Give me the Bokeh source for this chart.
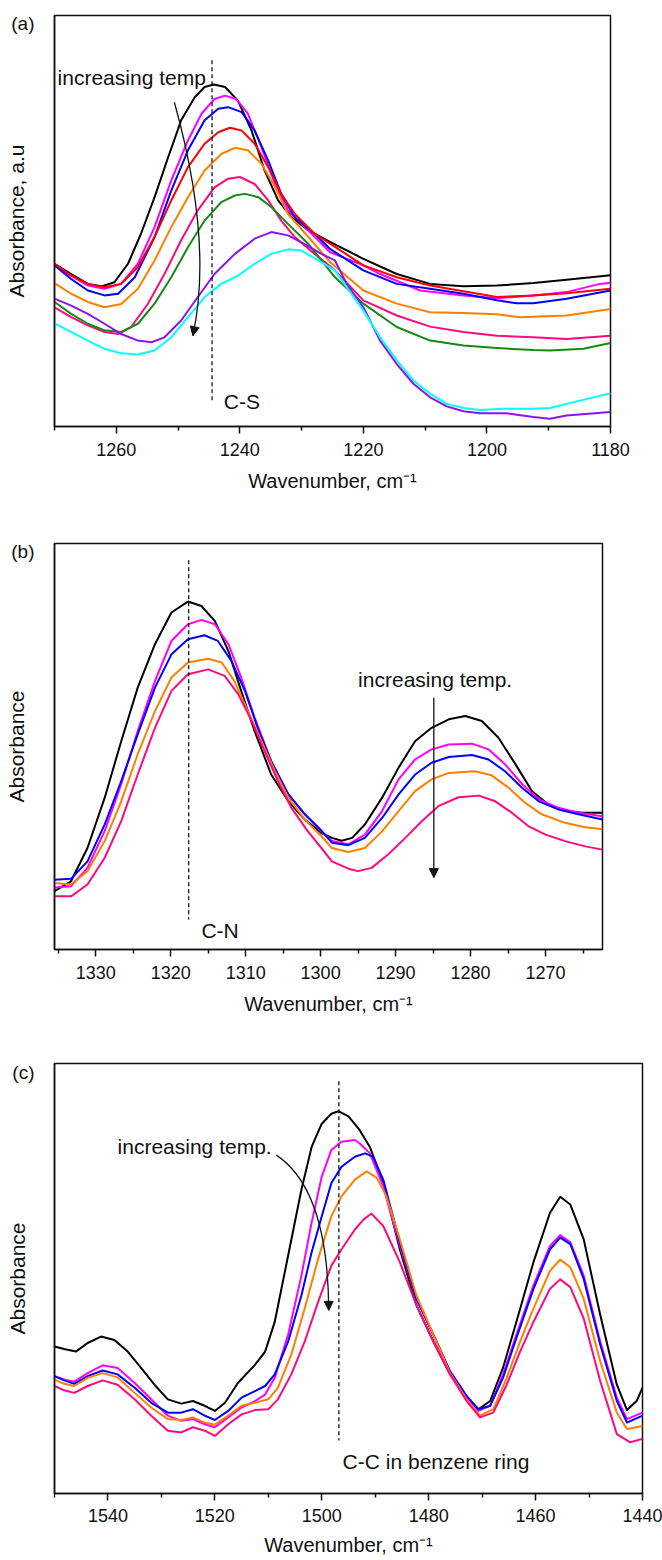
from bokeh.plotting import figure
from bokeh.layouts import column
from bokeh.models import Label, Arrow, NormalHead, FixedTicker, Range1d, CustomJSTickFormatter
from bokeh.embed import file_html
from bokeh.resources import INLINE

FONT = "Liberation Sans"
X_TITLE = "Wavenumber, cm\u207b\u00b9"

# ---------------- panel (a): C-S band ----------------
a_x_range = (1270, 1180)
a_major_ticks = [1260, 1240, 1220, 1200, 1180]
a_minor_ticks = [1270, 1250, 1230, 1210, 1190]

a_black_wn = [1270.0, 1267.3, 1264.6, 1262.4, 1260.3, 1258.1, 1256.0, 1253.8, 1251.6, 1249.5, 1247.3, 1245.7, 1244.2, 1242.4, 1240.3, 1238.1, 1236.0, 1233.8, 1231.6, 1228.9, 1225.4, 1220.0, 1214.6, 1209.2, 1203.8, 1198.4, 1192.5, 1187.1, 1180.0]
a_black_abs = [39.6, 37.1, 34.7, 34.1, 35.1, 39.6, 46.9, 55.8, 65.5, 74.5, 80.1, 82.6, 83.2, 82.6, 79.3, 72.0, 62.3, 55.0, 50.9, 47.7, 44.9, 40.8, 37.1, 34.7, 34.1, 34.3, 34.9, 35.7, 36.8]
a_magenta_wn = [1270.0, 1267.3, 1264.6, 1261.9, 1259.2, 1256.5, 1253.8, 1251.1, 1248.4, 1246.2, 1244.1, 1242.4, 1240.6, 1238.7, 1236.5, 1234.3, 1232.2, 1228.9, 1225.4, 1220.0, 1217.3, 1210.8, 1203.8, 1198.4, 1192.5, 1187.1, 1181.7, 1180.0]
a_magenta_abs = [39.2, 36.7, 34.3, 33.5, 34.7, 39.6, 48.5, 59.9, 69.6, 76.1, 79.7, 80.5, 79.7, 76.1, 67.9, 59.0, 52.6, 47.7, 42.4, 39.2, 37.1, 33.1, 31.9, 31.2, 31.9, 32.7, 34.7, 35.0]
a_blue_wn = [1270.0, 1267.3, 1264.6, 1261.9, 1259.7, 1257.0, 1253.8, 1251.1, 1248.4, 1245.7, 1243.5, 1241.9, 1239.7, 1237.6, 1235.4, 1233.3, 1231.1, 1227.9, 1225.4, 1220.0, 1214.6, 1209.2, 1203.8, 1198.4, 1195.2, 1192.5, 1187.1, 1180.0]
a_blue_abs = [39.2, 35.9, 33.1, 31.9, 32.3, 36.3, 46.1, 57.4, 67.2, 74.5, 77.3, 77.7, 76.5, 72.0, 64.7, 56.6, 50.9, 46.9, 43.2, 38.0, 34.7, 33.5, 32.3, 30.7, 30.0, 30.0, 31.1, 33.1]
a_red_wn = [1270.0, 1267.3, 1264.6, 1261.9, 1259.2, 1256.5, 1253.8, 1251.1, 1248.4, 1245.7, 1243.5, 1241.6, 1239.7, 1237.6, 1235.4, 1233.3, 1231.1, 1227.9, 1225.4, 1220.0, 1214.6, 1209.2, 1203.8, 1198.4, 1192.5, 1187.1, 1180.0]
a_red_abs = [39.6, 36.7, 34.7, 33.9, 34.7, 38.8, 46.1, 55.0, 63.1, 68.8, 71.6, 72.7, 72.0, 68.8, 63.1, 56.6, 51.7, 46.9, 44.5, 39.2, 36.3, 34.3, 32.9, 31.5, 31.9, 32.4, 33.5]
a_orange_wn = [1270.0, 1267.3, 1264.6, 1261.9, 1259.2, 1256.5, 1253.8, 1251.1, 1248.4, 1245.7, 1243.0, 1240.8, 1238.7, 1236.5, 1234.3, 1232.2, 1228.9, 1225.4, 1220.0, 1214.6, 1209.2, 1203.8, 1198.4, 1194.6, 1187.1, 1180.0]
a_orange_abs = [34.9, 32.3, 30.3, 29.0, 29.8, 33.5, 40.4, 48.5, 55.8, 62.3, 66.3, 67.8, 67.2, 63.9, 58.2, 51.7, 46.1, 40.0, 33.1, 29.9, 27.8, 27.6, 27.3, 26.6, 27.0, 28.6]
a_pink_wn = [1270.0, 1267.3, 1264.6, 1261.9, 1259.7, 1257.6, 1254.9, 1252.2, 1249.5, 1246.8, 1244.1, 1241.9, 1240.0, 1237.6, 1235.4, 1233.3, 1231.1, 1227.9, 1224.6, 1220.0, 1214.6, 1209.2, 1203.8, 1198.4, 1192.5, 1187.1, 1180.0]
a_pink_abs = [29.0, 26.6, 24.6, 23.0, 22.5, 24.2, 29.8, 37.1, 45.3, 52.6, 58.2, 60.3, 60.7, 59.0, 55.0, 50.1, 46.1, 42.0, 38.0, 30.7, 27.0, 24.3, 23.0, 22.1, 21.7, 21.3, 22.1]
a_green_wn = [1270.0, 1267.3, 1264.6, 1261.9, 1259.2, 1256.5, 1253.8, 1251.1, 1248.4, 1245.7, 1243.0, 1240.8, 1239.2, 1237.0, 1234.9, 1232.2, 1228.9, 1224.6, 1220.0, 1214.6, 1209.2, 1203.8, 1198.4, 1192.5, 1189.8, 1184.4, 1180.0]
a_green_abs = [30.3, 27.4, 25.0, 23.4, 23.0, 25.0, 29.9, 36.3, 43.6, 50.1, 54.6, 56.2, 56.6, 55.8, 53.4, 49.3, 44.4, 36.3, 29.9, 24.2, 20.9, 19.7, 19.1, 18.6, 18.5, 18.9, 20.3]
a_purple_wn = [1270.0, 1267.3, 1264.6, 1261.9, 1259.2, 1256.5, 1254.3, 1252.2, 1249.5, 1246.8, 1244.1, 1240.8, 1237.6, 1234.9, 1232.2, 1229.5, 1226.8, 1224.6, 1222.7, 1220.0, 1217.3, 1214.6, 1211.9, 1209.2, 1206.5, 1203.8, 1201.1, 1196.8, 1192.5, 1189.8, 1187.1, 1180.0]
a_purple_abs = [31.1, 29.4, 27.4, 25.0, 22.5, 20.9, 20.5, 21.7, 25.8, 31.5, 37.1, 42.0, 45.7, 47.3, 46.5, 44.4, 42.0, 40.4, 34.7, 29.0, 20.9, 15.2, 10.4, 7.1, 4.9, 3.7, 3.2, 3.2, 2.3, 1.9, 2.7, 3.5]
a_cyan_wn = [1270.0, 1267.3, 1264.6, 1261.9, 1259.2, 1256.5, 1253.8, 1251.1, 1248.4, 1245.7, 1243.0, 1240.3, 1237.6, 1234.9, 1232.2, 1230.0, 1227.3, 1224.6, 1222.7, 1220.0, 1217.3, 1214.6, 1211.9, 1209.2, 1206.5, 1203.8, 1201.1, 1197.3, 1192.5, 1189.8, 1187.1, 1180.0]
a_cyan_abs = [25.1, 23.0, 20.9, 18.9, 17.8, 17.5, 18.5, 21.7, 26.6, 31.5, 34.7, 36.7, 39.6, 42.0, 43.1, 42.8, 40.4, 38.0, 33.9, 28.2, 21.7, 16.1, 11.2, 8.0, 5.5, 4.5, 4.0, 4.3, 4.3, 4.5, 5.5, 8.1]

# ---------------- panel (b): C-N band ----------------
b_x_range = (1335.5, 1262.4)
b_major_ticks = [1330, 1320, 1310, 1300, 1290, 1280, 1270]
b_minor_ticks = [1335, 1325, 1315, 1305, 1295, 1285, 1275, 1265]

b_black_wn = [1335.5, 1333.3, 1331.1, 1328.8, 1326.6, 1324.4, 1322.1, 1319.9, 1317.7, 1315.9, 1314.1, 1312.3, 1310.6, 1308.8, 1306.6, 1304.3, 1302.1, 1299.9, 1298.5, 1297.2, 1295.8, 1294.1, 1291.8, 1289.6, 1287.4, 1285.2, 1282.9, 1280.7, 1278.5, 1276.3, 1274.0, 1271.8, 1269.6, 1267.4, 1265.1, 1262.4]
b_black_abs = [14.4, 16.8, 25.0, 37.4, 51.3, 64.5, 75.2, 83.0, 85.7, 84.6, 80.9, 73.5, 63.7, 53.8, 43.1, 36.5, 32.0, 28.7, 27.5, 26.8, 27.5, 30.8, 37.4, 44.8, 51.3, 54.6, 56.7, 57.5, 56.3, 52.2, 45.6, 39.0, 35.7, 34.2, 33.7, 33.7]
b_magenta_wn = [1335.5, 1333.3, 1331.1, 1328.8, 1326.6, 1324.4, 1322.1, 1319.9, 1317.7, 1315.9, 1314.1, 1312.3, 1310.6, 1308.8, 1306.6, 1304.3, 1302.1, 1299.9, 1298.5, 1296.3, 1294.1, 1291.8, 1289.6, 1287.4, 1285.2, 1282.9, 1279.8, 1277.6, 1275.4, 1273.1, 1270.9, 1268.3, 1265.6, 1262.4]
b_magenta_abs = [15.3, 15.6, 20.1, 29.2, 40.7, 53.8, 66.1, 76.0, 80.1, 81.2, 80.1, 75.2, 67.0, 57.1, 46.4, 38.2, 33.3, 29.1, 26.7, 25.9, 28.3, 34.1, 41.9, 46.8, 49.3, 50.5, 50.7, 49.3, 45.6, 40.7, 37.0, 34.9, 33.7, 32.8]
b_blue_wn = [1335.5, 1333.3, 1331.1, 1328.8, 1326.6, 1324.4, 1322.1, 1319.9, 1317.7, 1315.5, 1313.7, 1311.9, 1310.1, 1308.4, 1306.6, 1304.3, 1302.1, 1299.9, 1298.5, 1296.3, 1294.1, 1291.8, 1289.6, 1287.4, 1285.2, 1282.9, 1279.8, 1277.6, 1275.4, 1273.1, 1270.9, 1268.3, 1265.6, 1262.4]
b_blue_abs = [17.2, 17.4, 21.7, 30.8, 41.5, 53.0, 64.5, 72.7, 76.4, 77.4, 76.0, 71.1, 63.7, 54.6, 46.4, 38.2, 33.3, 29.3, 26.3, 25.7, 27.5, 32.4, 38.2, 43.1, 46.0, 47.4, 47.9, 46.8, 43.9, 39.8, 36.5, 34.5, 33.3, 32.0]
b_orange_wn = [1335.5, 1333.3, 1331.1, 1328.8, 1326.6, 1324.4, 1322.1, 1319.9, 1317.7, 1315.0, 1313.2, 1311.5, 1309.7, 1307.9, 1306.1, 1304.3, 1302.1, 1299.9, 1298.5, 1296.3, 1294.1, 1291.8, 1289.6, 1287.4, 1285.2, 1282.9, 1279.4, 1277.2, 1274.9, 1272.7, 1270.5, 1267.4, 1264.7, 1262.4]
b_orange_abs = [16.4, 16.0, 19.3, 26.7, 36.5, 48.1, 58.7, 67.0, 70.7, 71.6, 70.7, 66.1, 58.7, 51.3, 43.9, 37.4, 32.0, 27.9, 25.0, 24.0, 25.0, 29.1, 34.1, 39.0, 41.9, 43.5, 43.9, 42.9, 39.8, 36.1, 33.3, 31.2, 30.1, 29.6]
b_pink_wn = [1335.5, 1333.3, 1331.1, 1328.8, 1326.6, 1324.4, 1322.1, 1319.9, 1317.7, 1315.0, 1312.8, 1311.0, 1309.2, 1307.5, 1305.7, 1303.9, 1301.7, 1299.9, 1298.5, 1296.3, 1295.0, 1293.2, 1291.0, 1288.7, 1286.5, 1284.3, 1281.6, 1278.9, 1276.7, 1274.5, 1272.3, 1270.0, 1267.4, 1264.7, 1262.4]
b_pink_abs = [13.1, 13.1, 16.0, 22.6, 31.6, 43.1, 54.6, 63.7, 67.8, 69.0, 67.4, 62.9, 56.3, 48.9, 41.5, 34.9, 29.1, 25.0, 21.7, 19.9, 19.3, 20.1, 23.4, 27.5, 31.6, 35.3, 37.5, 37.9, 36.5, 33.7, 30.4, 28.3, 26.7, 25.4, 24.6]

# ---------------- panel (c): C-C benzene ring ----------------
c_x_range = (1550, 1440)
c_major_ticks = [1540, 1520, 1500, 1480, 1460, 1440]
c_minor_ticks = [1550, 1530, 1510, 1490, 1470, 1450]

c_black_wn = [1550.0, 1548.2, 1546.0, 1543.8, 1541.3, 1538.8, 1536.3, 1533.8, 1531.3, 1528.8, 1526.3, 1524.1, 1521.9, 1520.0, 1518.1, 1515.7, 1512.5, 1510.6, 1508.8, 1506.3, 1503.8, 1501.9, 1500.0, 1498.2, 1496.9, 1495.0, 1492.9, 1491.0, 1488.5, 1485.4, 1482.3, 1479.1, 1476.0, 1472.9, 1470.7, 1468.5, 1466.1, 1463.6, 1460.4, 1457.3, 1455.4, 1453.5, 1451.0, 1447.9, 1444.8, 1442.9, 1441.1, 1440.0]
c_black_abs = [34.2, 33.6, 33.0, 35.0, 36.5, 35.7, 33.0, 29.2, 25.3, 21.9, 20.9, 21.5, 20.4, 19.2, 21.1, 25.7, 29.9, 33.0, 39.9, 55.3, 70.7, 80.6, 86.0, 88.3, 88.9, 87.7, 84.5, 80.6, 72.2, 56.8, 43.8, 35.3, 27.7, 22.3, 19.6, 21.5, 29.2, 39.9, 53.8, 65.3, 69.0, 67.2, 59.1, 41.5, 25.3, 19.4, 21.5, 24.6]
c_magenta_wn = [1550.0, 1548.2, 1546.3, 1543.8, 1541.0, 1538.2, 1535.0, 1531.9, 1528.8, 1526.3, 1524.1, 1521.9, 1520.0, 1517.5, 1515.0, 1512.5, 1510.6, 1508.8, 1506.3, 1503.8, 1501.9, 1500.0, 1498.2, 1496.3, 1493.8, 1492.9, 1491.0, 1488.5, 1485.4, 1482.3, 1479.1, 1476.0, 1472.9, 1470.7, 1468.5, 1466.1, 1463.6, 1460.4, 1457.3, 1455.4, 1453.5, 1451.0, 1447.9, 1444.8, 1442.9, 1440.0]
c_magenta_abs = [27.3, 26.5, 26.0, 28.0, 29.8, 29.2, 25.7, 21.9, 18.1, 16.9, 17.3, 16.1, 15.4, 17.7, 20.0, 21.5, 23.0, 26.9, 36.9, 50.7, 63.0, 73.7, 79.9, 81.8, 82.2, 81.4, 79.1, 71.4, 57.6, 45.3, 36.9, 28.4, 22.3, 19.2, 20.4, 27.7, 36.9, 48.4, 57.6, 60.1, 58.4, 50.7, 35.3, 22.3, 17.3, 18.8]
c_blue_wn = [1550.0, 1548.2, 1546.3, 1543.8, 1541.0, 1538.2, 1535.0, 1531.9, 1528.8, 1526.3, 1524.1, 1521.9, 1520.0, 1517.5, 1515.0, 1512.5, 1510.6, 1508.8, 1506.3, 1503.8, 1501.9, 1500.0, 1498.2, 1496.3, 1493.8, 1491.9, 1490.4, 1488.5, 1485.4, 1482.3, 1479.1, 1476.0, 1472.9, 1470.7, 1468.5, 1466.1, 1463.6, 1460.4, 1457.3, 1455.4, 1453.5, 1451.0, 1447.9, 1444.8, 1442.9, 1440.0]
c_blue_abs = [27.3, 26.3, 25.5, 27.3, 28.6, 27.7, 24.6, 21.1, 18.8, 18.8, 19.6, 18.1, 17.1, 19.2, 22.3, 23.8, 25.0, 27.7, 35.3, 46.1, 56.1, 64.5, 72.2, 76.0, 78.3, 79.1, 78.3, 73.0, 58.4, 45.3, 36.9, 28.4, 22.7, 19.6, 20.4, 26.9, 36.1, 47.6, 56.8, 59.5, 58.0, 49.9, 34.6, 21.5, 16.5, 18.1]
c_orange_wn = [1550.0, 1548.2, 1546.3, 1543.8, 1541.0, 1538.2, 1535.0, 1531.9, 1528.8, 1526.3, 1524.1, 1521.9, 1520.0, 1517.5, 1515.0, 1512.5, 1510.0, 1508.2, 1505.7, 1503.2, 1500.7, 1498.2, 1496.3, 1493.8, 1491.6, 1489.7, 1487.9, 1485.4, 1482.3, 1479.1, 1476.0, 1472.9, 1470.4, 1467.9, 1465.4, 1462.9, 1460.4, 1457.3, 1455.4, 1453.5, 1451.0, 1447.9, 1444.8, 1442.9, 1440.0]
c_orange_abs = [26.5, 25.5, 25.0, 26.9, 28.0, 27.0, 23.4, 20.0, 17.3, 17.1, 17.7, 16.5, 16.0, 18.1, 20.4, 21.1, 21.9, 24.6, 32.3, 43.0, 54.5, 64.5, 69.1, 73.0, 74.9, 73.4, 69.1, 59.1, 46.1, 36.9, 28.0, 21.9, 18.1, 19.6, 26.9, 35.3, 43.0, 51.8, 54.4, 52.6, 45.3, 30.7, 18.8, 15.0, 15.7]
c_pink_wn = [1550.0, 1548.2, 1546.3, 1543.8, 1541.0, 1538.2, 1535.0, 1531.9, 1528.8, 1526.3, 1524.1, 1521.9, 1520.0, 1517.5, 1515.0, 1512.5, 1510.0, 1508.2, 1505.7, 1503.2, 1500.7, 1498.2, 1496.3, 1493.8, 1492.2, 1490.7, 1488.5, 1485.4, 1482.3, 1479.1, 1476.0, 1472.9, 1470.4, 1467.9, 1465.4, 1462.9, 1460.4, 1457.3, 1455.4, 1453.5, 1451.0, 1447.9, 1444.8, 1442.3, 1440.0]
c_pink_abs = [25.0, 24.0, 23.4, 25.0, 26.3, 25.3, 21.9, 18.1, 14.6, 14.2, 15.4, 14.6, 13.4, 16.1, 18.4, 19.4, 19.6, 21.9, 27.7, 35.3, 44.5, 53.0, 56.8, 61.4, 63.7, 65.1, 62.2, 53.8, 43.8, 35.3, 27.7, 21.5, 17.7, 18.8, 25.3, 33.0, 39.9, 47.6, 49.8, 48.0, 40.7, 26.1, 13.8, 11.9, 12.7]

COLORS = {"black": "#000000", "magenta": "#FF00FF", "blue": "#0000FF", "red": "#FF0000",
          "orange": "#FF8000", "pink": "#FF0A7D", "green": "#158A15", "purple": "#8A14F0",
          "cyan": "#00FFFF"}

# annotations: positions in data units
a_marker_x, a_marker_y = 1244.5, (89.1, 5.9)
b_marker_x, b_marker_y = 1317.6, (95.9, 7.4)
c_marker_x, c_marker_y = 1496.8, (95.9, 12.3)
PANEL_TAG_Y = 98  # height (in the 0-100 absorbance scale) of the (a)/(b)/(c) tags

INK = "#111111"


def make_fig(width, height, xr, major, minor, ylabel, tag, borders, label_standoff, title_standoff):
    left, right, top, bottom = borders
    p = figure(width=width, height=height, x_range=Range1d(*xr), y_range=Range1d(0, 100),
               output_backend="svg", toolbar_location=None, title=None,
               min_border_left=left, min_border_right=right,
               min_border_top=top, min_border_bottom=bottom)
    p.xgrid.visible = False
    p.ygrid.visible = False
    p.background_fill_color = "white"
    p.border_fill_color = "white"
    p.outline_line_color = INK
    p.outline_line_width = 1.5
    xa = p.xaxis[0]
    xa.ticker = FixedTicker(ticks=major, minor_ticks=minor)
    xa.axis_line_color = INK
    xa.axis_line_width = 1.5
    xa.major_tick_in = 0
    xa.major_tick_out = 7
    xa.minor_tick_in = 0
    xa.minor_tick_out = 4
    xa.major_tick_line_width = 1.5
    xa.minor_tick_line_width = 1.5
    xa.major_tick_line_color = INK
    xa.minor_tick_line_color = INK
    xa.major_label_text_font = FONT
    xa.major_label_text_font_size = "18px"
    xa.major_label_text_color = INK
    xa.major_label_standoff = label_standoff
    xa.axis_label = X_TITLE
    xa.axis_label_text_font = FONT
    xa.axis_label_text_font_size = "20px"
    xa.axis_label_text_font_style = "normal"
    xa.axis_label_text_color = INK
    xa.axis_label_standoff = title_standoff
    # y axis: no numeric ticks; its single tick label carries the panel tag
    ya = p.yaxis[0]
    ya.ticker = FixedTicker(ticks=[PANEL_TAG_Y], minor_ticks=[])
    ya.formatter = CustomJSTickFormatter(code="return %r;" % tag)
    ya.major_tick_out = 0
    ya.major_tick_in = 0
    ya.minor_tick_out = 0
    ya.minor_tick_in = 0
    ya.major_tick_line_color = None
    ya.minor_tick_line_color = None
    ya.major_label_text_font = FONT
    ya.major_label_text_font_size = "19px"
    ya.major_label_text_color = INK
    ya.major_label_standoff = 20
    ya.axis_line_color = INK
    ya.axis_line_width = 1.5
    ya.axis_label = ylabel
    ya.axis_label_text_font = FONT
    ya.axis_label_text_font_size = "21px"
    ya.axis_label_text_font_style = "normal"
    ya.axis_label_text_color = INK
    ya.axis_label_standoff = -20
    return p


def add_curves(p, series):
    for name, xs, ys in series:
        p.line(xs, ys, line_color=COLORS[name], line_width=2, line_join="round")


def add_text(p, x, y, text, size="21px"):
    p.add_layout(Label(x=x, y=y, text=text, text_font=FONT, text_font_size=size,
                       text_color=INK, text_align="left", text_baseline="alphabetic"))


def add_marker(p, x, ys):
    p.segment(x0=[x], y0=[ys[0]], x1=[x], y1=[ys[1]], line_color=INK,
              line_width=1.3, line_dash="4 3")


def arrow_head():
    return NormalHead(size=9, fill_color=INK, line_color=INK, line_width=1)


def add_curved_arrow(p, p0, ctrl, p1):
    p.quadratic(x0=[p0[0]], y0=[p0[1]], x1=[p1[0]], y1=[p1[1]], cx=[ctrl[0]], cy=[ctrl[1]],
                line_color=INK, line_width=1.3)
    sx = p1[0] + 0.08 * (ctrl[0] - p1[0])
    sy = p1[1] + 0.08 * (ctrl[1] - p1[1])
    p.add_layout(Arrow(end=arrow_head(), x_start=sx, y_start=sy, x_end=p1[0], y_end=p1[1],
                       line_color=INK, line_width=1.3))


LEFT, RIGHT = 54, 20

# ---- (a)
pa = make_fig(630, 505, a_x_range, a_major_ticks, a_minor_ticks, "Absorbance, a.u", "(a)",
              (LEFT, RIGHT, 15, 79), 9, 11)
add_curves(pa, [("black", a_black_wn, a_black_abs), ("magenta", a_magenta_wn, a_magenta_abs),
                ("blue", a_blue_wn, a_blue_abs), ("red", a_red_wn, a_red_abs),
                ("orange", a_orange_wn, a_orange_abs), ("pink", a_pink_wn, a_pink_abs),
                ("green", a_green_wn, a_green_abs), ("purple", a_purple_wn, a_purple_abs),
                ("cyan", a_cyan_wn, a_cyan_abs)])
add_marker(pa, a_marker_x, a_marker_y)
add_text(pa, 1269.5, 84.9, "increasing temp")
add_text(pa, 1242.6, 6.2, "C-S")
add_curved_arrow(pa, (1250.6, 78.9), (1244.3, 44.9), (1247.6, 22.1))

# ---- (b)
pb = make_fig(622, 520, b_x_range, b_major_ticks, b_minor_ticks, "Absorbance", "(b)",
              (LEFT, RIGHT, 38, 76), 9, 11)
add_curves(pb, [("black", b_black_wn, b_black_abs), ("magenta", b_magenta_wn, b_magenta_abs),
                ("blue", b_blue_wn, b_blue_abs), ("orange", b_orange_wn, b_orange_abs),
                ("pink", b_pink_wn, b_pink_abs)])
add_marker(pb, b_marker_x, b_marker_y)
add_text(pb, 1295.0, 66.4, "increasing temp.")
add_text(pb, 1315.9, 4.8, "C-N")
pb.add_layout(Arrow(end=arrow_head(), x_start=1284.9, y_start=62.0, x_end=1284.9, y_end=17.7,
                    line_color=INK, line_width=1.3))

# ---- (c)
pc = make_fig(662, 534, c_x_range, c_major_ticks, c_minor_ticks, "Absorbance", "(c)",
              (LEFT, RIGHT, 38, 66), 8, 9)
add_curves(pc, [("black", c_black_wn, c_black_abs), ("magenta", c_magenta_wn, c_magenta_abs),
                ("blue", c_blue_wn, c_blue_abs), ("orange", c_orange_wn, c_orange_abs),
                ("pink", c_pink_wn, c_pink_abs)])
add_marker(pc, c_marker_x, c_marker_y)
add_text(pc, 1538.2, 80.7, "increasing temp.")
add_text(pc, 1496.1, 7.4, "C-C in benzene ring")
add_curved_arrow(pc, (1508.5, 78.7), (1498.8, 70.7), (1498.7, 42.6))

layout = column(pa, pb, pc, spacing=0)
open("out.html", "w").write(file_html(layout, INLINE))
